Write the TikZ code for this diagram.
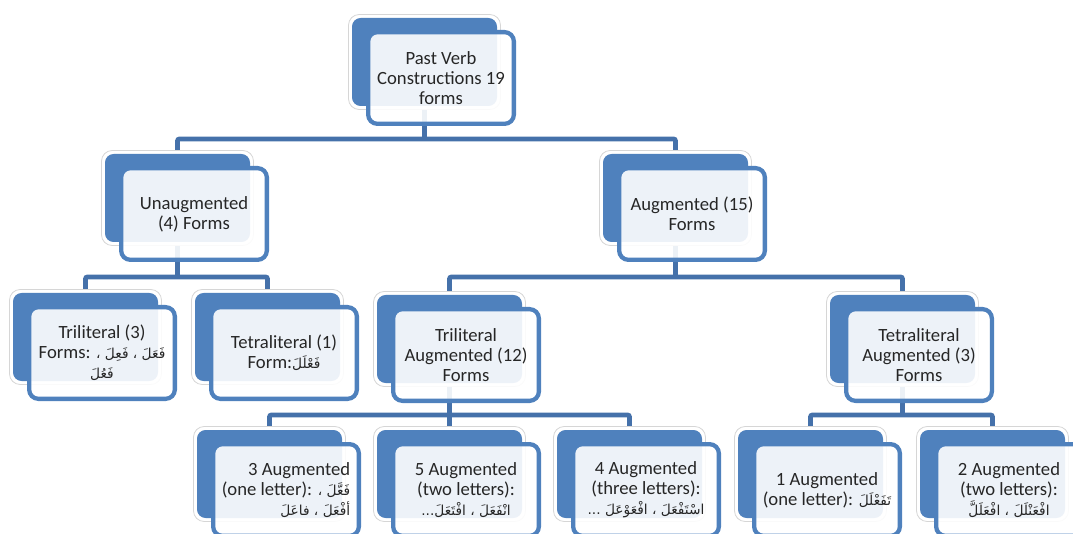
\documentclass[tikz,border=0pt]{standalone}
\usepackage{fontspec}
\usetikzlibrary{backgrounds}
\setmainfont{Carlito}
\newfontfamily\arabicfont[Script=Arabic]{DejaVu Sans}
\TeXXeTstate=1
\definecolor{ofblue}{HTML}{4F81BD}
\definecolor{connblue}{HTML}{4571AA}
\definecolor{txtgray}{HTML}{262626}
\newcommand{\ar}[1]{{\arabicfont\fontsize{10.3}{15}\selectfont\beginR #1\endR}}
\newcommand{\treebox}[5]{%
  \path[halo] ({#2-3.5},{#3-3.5}) rectangle ({#2+148.5},{#3+91.5});
  \path[backbox] (#2,#3) rectangle ({#2+145},{#3+88});
  \coordinate (#1top) at ({#2+72.5},#3);
  \coordinate (#1bot) at ({#2+72.5},{#3+88});
  \node[frontbox, align=#4] (#1) at ({#2+89},{#3+60}) {#5};
}
\begin{document}
\begin{tikzpicture}[x=0.75pt, y=-0.75pt,
  halo/.style={rounded corners=8pt, fill=white, draw=black!16, line width=0.6pt},
  backbox/.style={rounded corners=6.5pt, fill=ofblue},
  frontbox/.style={rectangle, rounded corners=7pt, minimum width=109.3pt, minimum height=68.8pt, inner sep=0pt, fill=white, fill opacity=0.9, text opacity=1, draw=ofblue, line width=3.2pt, font=\fontsize{14}{15}\selectfont, text=txtgray},
  conn/.style={draw=connblue, line width=3.6pt, rounded corners=1.5pt}]
\useasboundingbox (0,0) rectangle (1073,534);
\clip (0,0) rectangle (1073,534);
\coordinate (b1) at (0,139);
\coordinate (b2) at (0,277);
\coordinate (b3) at (0,415);
% boxes
\treebox{root}{352}{18}{center}{Past Verb\\Constructions 19\\forms}
\treebox{unaug}{105}{154}{center}{Unaugmented\\(4) Forms}
\treebox{aug}{603}{154}{center}{Augmented (15)\\Forms}
\treebox{tri}{13}{293}{center}{Triliteral (3)\\Forms: \ar{فَعَلَ ، فَعِلَ ،}\\\ar{فَعُلَ}}
\treebox{tetra}{195}{293}{center}{Tetraliteral (1)\\Form:\ar{فَعْلَلَ}}
\treebox{triaug}{377}{295}{center}{Triliteral\\Augmented (12)\\Forms}
\treebox{tetraaug}{830}{295}{center}{Tetraliteral\\Augmented (3)\\Forms}
\treebox{athree}{197}{430}{right}{3 Augmented\\(one letter): \ar{فَعَّلَ ،}\\\ar{أفْعَلَ ، فاعَلَ}}
\treebox{afive}{377}{430}{center}{5 Augmented\\(two letters):\\\ar{انْفَعَلَ ، افْتَعَلَ...}}
\treebox{afour}{557}{430}{center}{4 Augmented\\(three letters):\\\ar{اسْتَفْعَلَ ، افْعَوْعَلَ ...}}
\treebox{aone}{738}{430}{center}{1 Augmented\\(one letter): \ar{تَفَعْلَلَ}}
\treebox{atwo}{920}{430}{center}{2 Augmented\\(two letters):\\\ar{افْعَنْلَلَ ، افْعَلَلَّ}}
% connectors, under the boxes
\begin{pgfonlayer}{background}
\draw[conn] (rootbot) -- (rootbot |- b1);
\draw[conn] (unaugtop) |- (augtop |- b1) -- (augtop);
\draw[conn] (unaugbot) -- (unaugbot |- b2);
\draw[conn] (tritop) |- (tetratop |- b2) -- (tetratop);
\draw[conn] (augbot) -- (augbot |- b2);
\draw[conn] (triaugtop) |- (tetraaugtop |- b2) -- (tetraaugtop);
\draw[conn] (triaugbot) -- (triaugbot |- b3);
\draw[conn] (athreetop) |- (afourtop |- b3) -- (afourtop);
\draw[conn] (afivetop) -- (afivetop |- b3);
\draw[conn] (tetraaugbot) -- (tetraaugbot |- b3);
\draw[conn] (aonetop) |- (atwotop |- b3) -- (atwotop);
\end{pgfonlayer}
\end{tikzpicture}
\end{document}
